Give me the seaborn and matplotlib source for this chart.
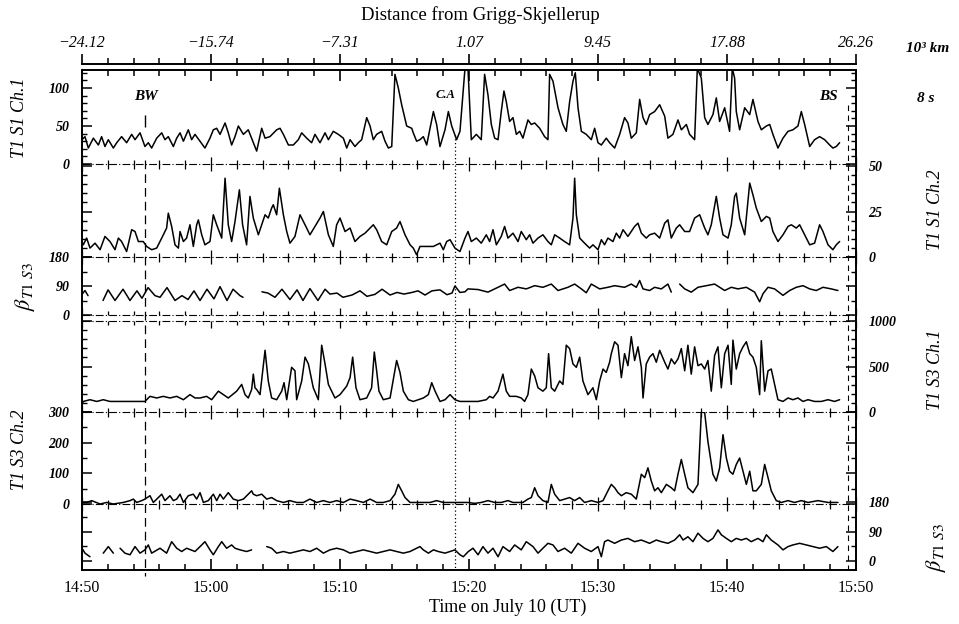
import numpy as np
import pandas as pd
import matplotlib
matplotlib.use("Agg")
import matplotlib.pyplot as plt
from matplotlib.ticker import MultipleLocator
import seaborn as sns

# ---------------- data (time in minutes after 14:50 UT, value) ----------------
s1_ch1 = [(0, 32), (0.23, 36), (0.49, 21), (0.88, 34), (1.27, 25), (1.52, 36), (1.78, 23), (2.04, 32), (2.43, 21), (2.69, 28),
          (3.07, 36), (3.46, 28), (3.85, 39), (4.11, 32), (4.50, 41), (4.88, 23), (5.14, 28), (5.40, 21), (5.79, 34), (6.18, 41),
          (6.43, 32), (6.69, 36), (7.08, 23), (7.34, 34), (7.60, 41), (7.86, 30), (8.24, 45), (8.50, 32), (8.76, 39), (9.15, 30),
          (9.53, 21), (9.92, 34), (10.18, 45), (10.44, 47), (10.70, 39), (11.09, 54), (11.34, 41), (11.60, 25), (11.86, 36), (12.12, 50),
          (12.51, 39), (12.89, 45), (13.28, 28), (13.54, 17), (13.93, 47), (14.19, 34), (14.57, 36), (15.09, 45), (15.35, 47), (15.61, 39),
          (16.0, 25), (16.38, 25), (16.77, 32), (17.03, 41), (17.42, 34), (17.80, 28), (18.06, 39), (18.45, 28), (18.84, 41), (19.10, 32),
          (19.48, 43), (19.87, 39), (20.26, 34), (20.52, 21), (20.78, 32), (21.16, 23), (21.42, 28), (21.68, 32), (22.07, 61), (22.33, 50),
          (22.58, 32), (22.84, 39), (23.23, 43), (23.49, 30), (23.75, 21), (24.01, 23), (24.26, 118), (24.52, 100), (24.78, 78), (25.17, 50),
          (25.56, 47), (25.68, 41), (25.94, 30), (26.20, 32), (26.46, 36), (26.72, 25), (27.24, 69), (27.49, 52), (27.75, 23), (28.14, 45),
          (28.40, 69), (28.66, 50), (29.04, 32), (29.30, 43), (29.69, 126),
          (29.92, 126), (30.18, 32), (30.57, 39), (30.95, 32), (31.21, 118), (31.47, 91), (31.73, 52), (31.99, 34), (32.25, 32), (32.50, 69),
          (32.71, 96), (32.89, 82), (33.15, 56), (33.41, 61), (33.67, 39), (33.93, 43), (34.18, 34), (34.57, 58), (34.83, 52), (35.09, 54),
          (35.48, 47), (35.86, 36), (36.12, 32), (36.25, 118), (36.51, 109), (36.90, 74), (37.28, 52), (37.54, 43), (37.80, 82), (38.06, 109),
          (38.24, 120), (38.45, 74), (38.71, 43), (39.09, 39), (39.48, 32), (39.74, 47), (40.0, 28), (40.26, 25), (40.64, 34), (40.90, 28),
          (41.29, 21), (41.68, 39), (42.06, 61), (42.32, 54), (42.58, 34), (42.97, 41), (43.23, 85), (43.49, 61), (43.74, 52), (44.0, 65),
          (44.39, 69), (44.78, 78), (45.17, 63), (45.42, 34), (45.81, 39), (46.20, 58), (46.46, 45), (46.85, 52), (47.10, 39), (47.49, 32),
          (47.70, 126), (48.01, 113), (48.27, 61), (48.52, 52), (48.91, 65), (49.17, 87), (49.43, 56), (49.82, 74), (50.20, 43), (50.41, 126),
          (50.59, 113), (50.72, 69), (50.98, 45), (51.37, 74), (51.76, 65), (52.01, 85), (52.40, 56), (52.66, 45), (53.05, 50), (53.31, 52),
          (53.56, 39), (53.95, 21), (54.34, 34), (54.73, 43), (55.11, 45), (55.50, 50), (55.76, 69), (56.02, 52), (56.41, 23), (56.79, 32),
          (57.18, 36), (57.57, 32), (57.96, 25), (58.21, 21), (58.47, 23), (58.73, 28)]

s1_ch2 = [(0, 8.5), (0.10, 6.7), (0.36, 10.4), (0.62, 4.9), (1.01, 7.6), (1.40, 4.0), (1.78, 11.3), (2.17, 8.5), (2.56, 4.0), (2.82, 10.4),
          (3.07, 8.5), (3.46, 3.0), (3.85, 15.0), (4.11, 14.0), (4.37, 8.5), (4.75, 8.5), (5.01, 5.8), (5.40, 4.0), (5.79, 4.9), (6.18, 10.4),
          (6.56, 15.9), (6.69, 24.1), (6.95, 16.8), (7.21, 6.7), (7.47, 4.9), (7.60, 14.0), (7.86, 8.5), (8.11, 10.4), (8.37, 17.7), (8.63, 5.8),
          (8.89, 17.7), (9.02, 20.4), (9.28, 12.2), (9.53, 6.7), (9.92, 8.5), (10.18, 23.2), (10.44, 17.7), (10.83, 10.4), (11.09, 43.3), (11.34, 17.7),
          (11.60, 8.5), (11.86, 19.5), (12.20, 36.9), (12.45, 17.7), (12.76, 6.7), (13.02, 33.3), (13.28, 21.4), (13.67, 12.2), (13.93, 17.7), (14.19, 23.2),
          (14.44, 21.4), (14.70, 26.9), (14.83, 28.7), (15.09, 23.2), (15.30, 37.8), (15.61, 23.2), (15.87, 14.0), (16.12, 7.6), (16.51, 11.3), (16.90, 23.2),
          (17.29, 17.7), (17.67, 12.2), (18.06, 16.8), (18.45, 21.4), (18.71, 25.0), (19.10, 12.2), (19.48, 5.8), (19.74, 17.7), (20.0, 21.4), (20.39, 14.0),
          (20.78, 15.9), (21.16, 8.5), (21.55, 11.3), (21.94, 13.1), (22.33, 15.9), (22.58, 17.7), (22.84, 15.0), (23.23, 8.5), (23.62, 6.7), (24.01, 14.0),
          (24.39, 15.9), (24.65, 19.5), (25.04, 12.2), (25.43, 6.7), (25.68, 4.9), (25.94, 1.2), (26.20, 5.8), (26.72, 5.8), (27.24, 5.8), (27.75, 7.6),
          (28.01, 4.0), (28.27, 8.5), (28.53, 9.5), (28.91, 4.9), (29.30, 3.0), (29.69, 10.4),
          (29.92, 14.0), (30.18, 8.5), (30.57, 10.4), (30.95, 7.6), (31.34, 12.2), (31.60, 8.5), (31.86, 15.0), (32.12, 6.7), (32.50, 11.3), (32.76, 16.8),
          (33.02, 10.4), (33.41, 13.1), (33.80, 8.5), (34.05, 14.0), (34.44, 9.5), (34.70, 12.2), (34.96, 7.6), (35.35, 10.4), (35.73, 12.2), (36.12, 8.5),
          (36.38, 6.7), (36.64, 12.2), (37.03, 10.4), (37.41, 8.5), (37.80, 6.7), (38.06, 21.4), (38.19, 43.3), (38.32, 23.2), (38.58, 10.4), (38.96, 7.6),
          (39.35, 4.9), (39.61, 6.7), (40.0, 4.0), (40.26, 9.5), (40.51, 6.7), (40.77, 10.4), (41.16, 8.5), (41.42, 13.1), (41.68, 10.4), (41.94, 15.0),
          (42.32, 11.3), (42.58, 14.0), (42.84, 16.8), (43.10, 18.6), (43.36, 13.1), (43.74, 10.4), (44.0, 12.2), (44.39, 13.1), (44.78, 10.4), (45.17, 18.6),
          (45.42, 20.4), (45.68, 10.4), (46.07, 15.9), (46.33, 17.7), (46.72, 14.0), (47.10, 14.0), (47.49, 21.4), (47.88, 23.2), (48.27, 15.9), (48.52, 12.2),
          (48.78, 17.7), (49.17, 33.3), (49.43, 21.4), (49.69, 12.2), (50.08, 10.4), (50.33, 17.7), (50.59, 33.3), (50.72, 35.1), (50.98, 21.4), (51.37, 12.2),
          (51.76, 40.6), (52.01, 34.2), (52.27, 26.9), (52.66, 19.5), (53.05, 22.3), (53.31, 21.4), (53.56, 14.0), (53.95, 8.5), (54.34, 12.2), (54.73, 16.8),
          (54.99, 17.7), (55.37, 15.9), (55.63, 17.7), (56.02, 12.2), (56.41, 6.7), (56.79, 7.6), (57.18, 17.7), (57.44, 14.0), (57.83, 6.7), (58.21, 4.0),
          (58.47, 6.7), (58.73, 8.5)]

beta_s1 = [(0, 64), (0.23, 76), (0.47, 60), None,
           (1.63, 45), (2.02, 78), (2.56, 45), (3.18, 80), (3.72, 45), (4.26, 75), (4.65, 52), (5.12, 85), (5.66, 60), (6.05, 55),
           (6.59, 85), (7.21, 45), (7.75, 60), (8.22, 48), (8.68, 75), (9.15, 45), (9.69, 80), (10.23, 50), (10.70, 88), (11.24, 45),
           (11.71, 80), (12.25, 60), (12.48, 55), None,
           (13.95, 72), (14.42, 68), (14.96, 55), (15.50, 80), (16.12, 48), (16.67, 78), (17.13, 45), (17.67, 82), (18.29, 45), (18.84, 80),
           (19.22, 65), (19.77, 68), (20.23, 55), (20.93, 62), (21.55, 75), (22.09, 58), (22.71, 64), (23.26, 80), (23.88, 62), (24.42, 70),
           (24.96, 65), (25.58, 70), (26.05, 75), (26.59, 62), (27.13, 75), (27.75, 78), (28.29, 63), (28.68, 68), (28.91, 90), (29.30, 70),
           (29.69, 72), (29.92, 81), (30.70, 79), (31.47, 71), (32.25, 86), (32.76, 96), (33.15, 76), (33.80, 86), (34.44, 81), (35.09, 91),
           (35.73, 86), (36.38, 96), (36.90, 76), (37.67, 86), (38.19, 96), (38.71, 81), (39.09, 69), (39.48, 96), (40.13, 81), (40.77, 86),
           (41.29, 91), (42.06, 86), (42.58, 96), (42.97, 86), (43.23, 107), (43.49, 81), (44.0, 76), (44.39, 86), (44.91, 81), (45.42, 96),
           (45.68, 71), None,
           (46.33, 96), (46.72, 81), (47.23, 71), (47.75, 86), (48.40, 91), (49.04, 96), (49.82, 76), (50.33, 86), (50.85, 81), (51.50, 86),
           (52.14, 71), (52.53, 41), (52.79, 66), (53.18, 86), (53.69, 81), (54.34, 61), (54.86, 76), (55.37, 86), (55.89, 91), (56.41, 81),
           (56.92, 76), (57.44, 86), (58.08, 81), (58.60, 76)]

s3_ch1 = [(0, 79), (0.10, 116), (0.62, 135), (1.14, 116), (1.65, 135), (2.17, 116), (2.69, 116), (3.20, 116), (3.72, 116), (4.37, 116),
          (4.88, 116), (5.27, 172), (5.79, 154), (6.30, 172), (6.82, 154), (7.34, 172), (7.86, 135), (8.37, 191), (8.76, 154), (9.15, 154),
          (9.66, 172), (10.05, 135), (10.57, 229), (10.96, 191), (11.34, 154), (11.99, 229), (12.38, 303), (12.64, 191), (12.89, 154), (13.15, 247),
          (13.28, 416), (13.41, 266), (13.54, 247), (13.80, 191), (14.19, 678), (14.44, 341), (14.70, 154), (15.09, 135), (15.48, 229), (15.66, 322),
          (15.87, 135), (16.25, 491), (16.51, 453), (16.64, 135), (17.03, 341), (17.29, 603), (17.55, 528), (17.93, 266), (18.32, 135), (18.58, 734),
          (18.84, 528), (19.10, 303), (19.61, 154), (20.0, 191), (20.52, 285), (20.78, 378), (20.98, 603), (21.24, 266), (21.55, 135), (22.07, 154),
          (22.45, 266), (22.66, 659), (22.84, 453), (23.02, 229), (23.36, 135), (23.88, 154), (24.39, 566), (24.65, 435), (24.91, 229), (25.30, 135),
          (25.68, 116), (26.07, 135), (26.46, 154), (26.85, 191), (27.11, 322), (27.37, 229), (27.75, 116), (28.14, 135), (28.53, 191), (28.91, 135),
          (29.30, 116), (29.92, 116), (30.70, 116), (31.34, 135), (31.60, 172), (31.86, 154), (32.25, 229), (32.63, 416), (32.89, 229), (33.15, 172),
          (33.67, 172), (34.05, 154), (34.31, 116), (34.57, 191), (34.83, 472), (35.09, 397), (35.35, 266), (35.73, 229), (35.99, 266), (36.17, 641),
          (36.38, 266), (36.64, 229), (37.03, 341), (37.28, 303), (37.54, 734), (37.80, 697), (38.06, 528), (38.32, 491), (38.58, 603), (38.83, 341),
          (39.22, 191), (39.61, 266), (39.87, 135), (40.13, 341), (40.39, 472), (40.64, 435), (40.90, 547), (41.03, 641), (41.29, 772), (41.55, 734),
          (41.81, 378), (42.06, 641), (42.32, 509), (42.58, 828), (42.84, 566), (43.10, 716), (43.36, 491), (43.49, 154), (43.74, 528), (44.0, 603),
          (44.26, 641), (44.52, 547), (44.78, 678), (45.17, 547), (45.42, 472), (45.68, 584), (45.94, 528), (46.20, 584), (46.46, 697), (46.72, 453),
          (46.97, 734), (47.23, 416), (47.49, 716), (47.75, 509), (48.01, 528), (48.27, 472), (48.52, 566), (48.78, 229), (49.04, 622), (49.30, 716),
          (49.56, 266), (49.82, 641), (50.08, 734), (50.33, 303), (50.46, 790), (50.72, 472), (50.98, 641), (51.24, 716), (51.50, 772), (51.76, 641),
          (52.01, 603), (52.27, 491), (52.53, 191), (52.66, 783), (52.92, 229), (53.18, 453), (53.43, 472), (53.69, 303), (53.95, 135), (54.34, 116),
          (54.73, 154), (55.11, 135), (55.50, 154), (55.89, 116), (56.28, 135), (56.79, 116), (57.31, 116), (57.83, 135), (58.34, 116), (58.73, 135)]

s3_ch2 = [(0, 5), (0.36, 5), (0.75, 11), (1.40, 0), (1.91, 5), (2.43, 0), (3.20, 5), (3.72, 11), (3.98, 16), (4.24, 5),
          (4.63, 11), (4.88, 16), (5.27, 27), (5.53, 5), (5.92, 21), (6.18, 32), (6.43, 11), (6.82, 27), (7.08, 11), (7.34, 16),
          (7.60, 32), (7.86, 5), (8.24, 27), (8.63, 32), (8.89, 16), (9.15, 37), (9.41, 5), (9.79, 11), (10.18, 32), (10.44, 11),
          (10.70, 32), (10.96, 16), (11.34, 37), (11.73, 16), (12.12, 11), (12.51, 16), (13.15, 43), (13.28, 32), (13.54, 27), (13.93, 32),
          (14.32, 16), (14.70, 21), (15.09, 11), (15.61, 5), (16.12, 11), (16.64, 5), (17.16, 5), (17.67, 16), (18.19, 5), (18.71, 11),
          (19.22, 5), (19.74, 11), (20.26, 5), (20.78, 16), (21.29, 11), (21.81, 5), (22.33, 16), (22.84, 5), (23.36, 5), (23.88, 11),
          (24.26, 32), (24.52, 64), (24.78, 43), (25.04, 21), (25.43, 5), (25.94, 5), (26.46, 5), (26.98, 5), (27.49, 11), (28.01, 5),
          (28.53, 5), (29.04, 5), (29.56, 5), (29.92, 5), (30.44, 2), (30.95, 5), (31.47, 11), (31.99, 5), (32.50, 5), (33.02, 11),
          (33.41, 5), (33.80, 5), (34.18, 5), (34.57, 16), (34.83, 21), (35.09, 53), (35.35, 27), (35.73, 11), (36.12, 5), (36.38, 64),
          (36.64, 32), (37.03, 11), (37.41, 16), (37.80, 21), (38.19, 11), (38.58, 21), (38.96, 5), (39.48, 11), (40.0, 5), (40.39, 11),
          (40.77, 43), (41.03, 64), (41.29, 53), (41.55, 37), (41.81, 27), (42.19, 37), (42.58, 32), (42.97, 16), (43.36, 97), (43.62, 86),
          (43.87, 118), (44.13, 75), (44.39, 43), (44.65, 53), (44.91, 37), (45.30, 64), (45.68, 53), (45.94, 43), (46.20, 97), (46.46, 145),
          (46.72, 97), (46.97, 53), (47.36, 37), (47.75, 64), (48.01, 300), (48.27, 298), (48.52, 204), (48.91, 97), (49.17, 75), (49.43, 118),
          (49.69, 226), (49.95, 150), (50.20, 107), (50.46, 97), (50.72, 129), (50.98, 150), (51.24, 107), (51.50, 64), (51.76, 107), (52.01, 43),
          (52.27, 43), (52.66, 64), (52.92, 129), (53.18, 86), (53.43, 43), (53.82, 11), (54.21, 5), (54.73, 11), (55.24, 5), (55.76, 11),
          (56.28, 5), (57.05, 11), (57.83, 5), (58.60, 5)]

beta_s3 = [(0, 39), (0.23, 24), (0.62, 13), None,
           (1.65, 24), (2.04, 44), (2.43, 24), None,
           (2.95, 39), (3.33, 24), (3.72, 19), (4.11, 44), (4.50, 24), (4.88, 34), (5.14, 49), (5.40, 24), (6.05, 39), (6.56, 24),
           (6.95, 59), (7.34, 39), (7.73, 29), (8.11, 39), (8.76, 29), (9.28, 49), (9.53, 59), (9.92, 34), (10.18, 19), (10.57, 44),
           (10.83, 59), (11.21, 39), (11.60, 49), (11.86, 39), (12.25, 34), (12.76, 29), (13.15, 34), None,
           (14.32, 44), (14.70, 39), (15.09, 24), (15.61, 29), (16.12, 24), (16.64, 29), (17.16, 34), (17.67, 29), (18.19, 39), (18.71, 24),
           (19.22, 34), (19.74, 39), (20.26, 34), (20.78, 24), (21.29, 29), (21.81, 34), (22.33, 29), (22.84, 24), (23.36, 29), (23.88, 34),
           (24.39, 29), (24.91, 24), (25.43, 29), (25.94, 39), (26.20, 44), (26.46, 34), (26.85, 24), (27.24, 34), (27.62, 29), (28.14, 24),
           (28.53, 29), (28.91, 34), (29.30, 19), (29.56, 13), (29.95, 29), (30.31, 39), (30.70, 19), (31.08, 44), (31.47, 24), (31.86, 39),
           (32.25, 13), (32.63, 44), (33.15, 29), (33.54, 49), (34.05, 34), (34.44, 59), (34.96, 44), (35.35, 24), (35.73, 39), (36.12, 54),
           (36.51, 49), (36.90, 29), (37.41, 39), (37.93, 24), (38.45, 54), (38.96, 39), (39.48, 29), (40.0, 44), (40.26, 13), (40.51, 59),
           (40.77, 64), (41.29, 54), (41.81, 64), (42.32, 69), (42.84, 59), (43.36, 64), (44.0, 54), (44.52, 64), (44.91, 59), (45.42, 54),
           (45.94, 64), (46.33, 80), (46.59, 64), (46.97, 74), (47.36, 59), (47.75, 85), (48.14, 69), (48.52, 59), (48.91, 69), (49.30, 95),
           (49.56, 80), (49.95, 69), (50.33, 59), (50.72, 69), (51.11, 64), (51.50, 69), (51.88, 59), (52.40, 69), (52.79, 59), (53.05, 80),
           (53.43, 64), (53.95, 49), (54.34, 34), (54.73, 44), (55.11, 49), (55.63, 54), (56.15, 49), (56.66, 44), (57.18, 39), (57.70, 44),
           (58.21, 29), (58.60, 44)]

time_ticks = [0, 10, 20, 30, 40, 50, 60]
time_labels = ["14:50", "15:00", "15:10", "15:20", "15:30", "15:40", "15:50"]
dist_labels = ["\u221224.12", "\u221215.74", "\u22127.31", "1.07", "9.45", "17.88", "26.26"]
events = {"BW": 4.9, "C.A": 28.9, "BS": 59.4}

# ---------------- style ----------------
sns.set_theme(style="white", rc={"axes.edgecolor": "black", "text.color": "black",
                                 "xtick.color": "black", "ytick.color": "black",
                                 "axes.labelcolor": "black"})
plt.rcParams["font.family"] = ["Liberation Serif", "DejaVu Serif"]
plt.rcParams["mathtext.fontset"] = "stix"

W, H = 959, 624
X0, X1 = 82, 856
fig = plt.figure(figsize=(W / 100, H / 100), dpi=100)


def rect(top, bottom):
    return [X0 / W, 1 - bottom / H, (X1 - X0) / W, (bottom - top) / H]


def to_df(pairs):
    rows, seg = [], 0
    for p in pairs:
        if p is None:
            seg += 1
            continue
        rows.append((p[0], p[1], seg))
    return pd.DataFrame(rows, columns=["t", "v", "seg"])


def ftxt(x, y, s, **kw):
    kw.setdefault("ha", "center")
    kw.setdefault("va", "center")
    fig.text(x / W, 1 - y / H, s, **kw)


# frame with time axis
frame = fig.add_axes(rect(70, 570))
frame.set_xlim(0, 60)
frame.set_ylim(0, 1)
frame.patch.set_alpha(0)
frame.set_yticks([])
for sp in frame.spines.values():
    sp.set_linewidth(1.4)
    sp.set_color("black")
frame.set_xticks(time_ticks)
frame.set_xticklabels(time_labels, fontsize=11.5)
frame.xaxis.set_minor_locator(MultipleLocator(2))
frame.tick_params(axis="x", which="major", direction="in", length=8, width=1.2,
                  top=True, bottom=True, pad=7)
frame.tick_params(axis="x", which="minor", direction="in", length=4.5, width=1.1,
                  top=True, bottom=True)

sec = frame.secondary_xaxis("top")
sec.spines["top"].set_position(("outward", 4))
sec.spines["top"].set_linewidth(1.4)
sec.set_xticks(time_ticks)
sec.set_xticklabels(dist_labels, fontsize=11.5, fontstyle="italic")
sec.xaxis.set_minor_locator(MultipleLocator(2))
sec.tick_params(axis="x", which="major", direction="out", length=7, width=1.2, pad=3)
sec.tick_params(axis="x", which="minor", direction="out", length=4, width=1.1)

panels = [
    dict(data=s1_ch1, top=70, bottom=164, ylim=(0, 123.7), major=[0, 50, 100], minor=10, side="left"),
    dict(data=s1_ch2, top=164, bottom=257, ylim=(0, 51.1), major=[0, 25, 50], minor=5, side="right"),
    dict(data=beta_s1, top=257, bottom=315, ylim=(0, 180), major=[0, 90, 180], minor=45, side="left"),
    dict(data=s3_ch1, top=321, bottom=412, ylim=(0, 1000), major=[0, 500, 1000], minor=100, side="right"),
    dict(data=s3_ch2, top=412, bottom=504, ylim=(0, 300), major=[0, 100, 200, 300], minor=50, side="left"),
    dict(data=beta_s3, top=502, bottom=570, ylim=(-27.4, 180), major=[0, 90, 180], minor=45, side="right"),
]
# (panel index, level, ticks up, ticks down)
baselines = [(0, 0, True, True), (1, 0, True, True), (2, 0, True, False),
             (3, 1000, False, True), (3, 0, True, True), (4, 0, True, True)]

axes = []
for p in panels:
    ax = fig.add_axes(rect(p["top"], p["bottom"]))
    ax.patch.set_alpha(0)
    for sp in ax.spines.values():
        sp.set_visible(False)
    df = to_df(p["data"])
    sns.lineplot(data=df, x="t", y="v", units="seg", estimator=None, color="black",
                 lw=1.1, ax=ax, legend=False, sort=False)
    ax.set_xlim(0, 60)
    ax.set_ylim(*p["ylim"])
    ax.set_xticks([])
    ax.set_xlabel("")
    ax.set_ylabel("")
    ax.set_yticks(p["major"])
    ax.set_yticklabels([str(m) for m in p["major"]], fontsize=10, fontweight="bold",
                       fontstyle="italic")
    ax.yaxis.set_minor_locator(MultipleLocator(p["minor"]))
    left = p["side"] == "left"
    ax.tick_params(axis="y", which="major", direction="in", length=7, width=1.1,
                   left=True, right=True, labelleft=left, labelright=not left, pad=9)
    ax.tick_params(axis="y", which="minor", direction="in", length=3.5, width=1.0,
                   left=True, right=True)
    p["k"] = (p["ylim"][1] - p["ylim"][0]) / (p["bottom"] - p["top"])
    axes.append(ax)

marks = np.arange(0, 61, 2)
for idx, lev, up, dn in baselines:
    ax, p = axes[idx], panels[idx]
    ax.axhline(lev, color="black", lw=0.8, ls=(0, (7, 2, 1, 2)), clip_on=False)
    k = p["k"]
    for m in marks:
        L = 7 if m % 10 == 0 else 4.5
        ax.vlines(m, lev - (L * k if dn else 0), lev + (L * k if up else 0),
                  color="black", lw=0.9, clip_on=False)

# event lines
bw, ca, bs = events["BW"], events["C.A"], events["BS"]
axes[0].vlines(bw, 49, 64, color="black", lw=1.0)
frame.plot([bw, bw], [0.82, -0.012], color="black", lw=0.9, ls=(0, (7, 4)), clip_on=False)
frame.plot([ca, ca], [0.87, 0.0], color="black", lw=0.9, ls=(0, (1, 2)))
frame.plot([bs, bs], [0.93, 0.0], color="black", lw=0.8, ls=(0, (5, 4)))

# texts
bi = dict(fontweight="bold", fontstyle="italic")
ftxt(146, 97, "BW", fontsize=11, **bi)
ftxt(446, 95, "C.A", fontsize=9, **bi)
ftxt(828, 96, "BS", fontsize=11, **bi)
ftxt(928, 48, "10\u00b3 km", fontsize=11, **bi)
ftxt(926, 98, "8 s", fontsize=11, **bi)

ftxt(480, 15, "Distance from Grigg-Skjellerup", fontsize=13.5)
ftxt(508, 607, "Time on July 10 (UT)", fontsize=13)

it = dict(fontstyle="italic", rotation=90, fontsize=13)
ftxt(20, 118, "T1 S1 Ch.1", **it)
ftxt(20, 450, "T1 S3 Ch.2", **it)
ftxt(936, 210, "T1 S1 Ch.2", **it)
ftxt(936, 370, "T1 S3 Ch.1", **it)
ftxt(25, 287, r"$\beta_{T1\ S3}$", rotation=90, fontsize=16)
ftxt(936, 548, r"$\beta_{T1\ S3}$", rotation=90, fontsize=16)

fig.savefig("out.png", dpi=100)
